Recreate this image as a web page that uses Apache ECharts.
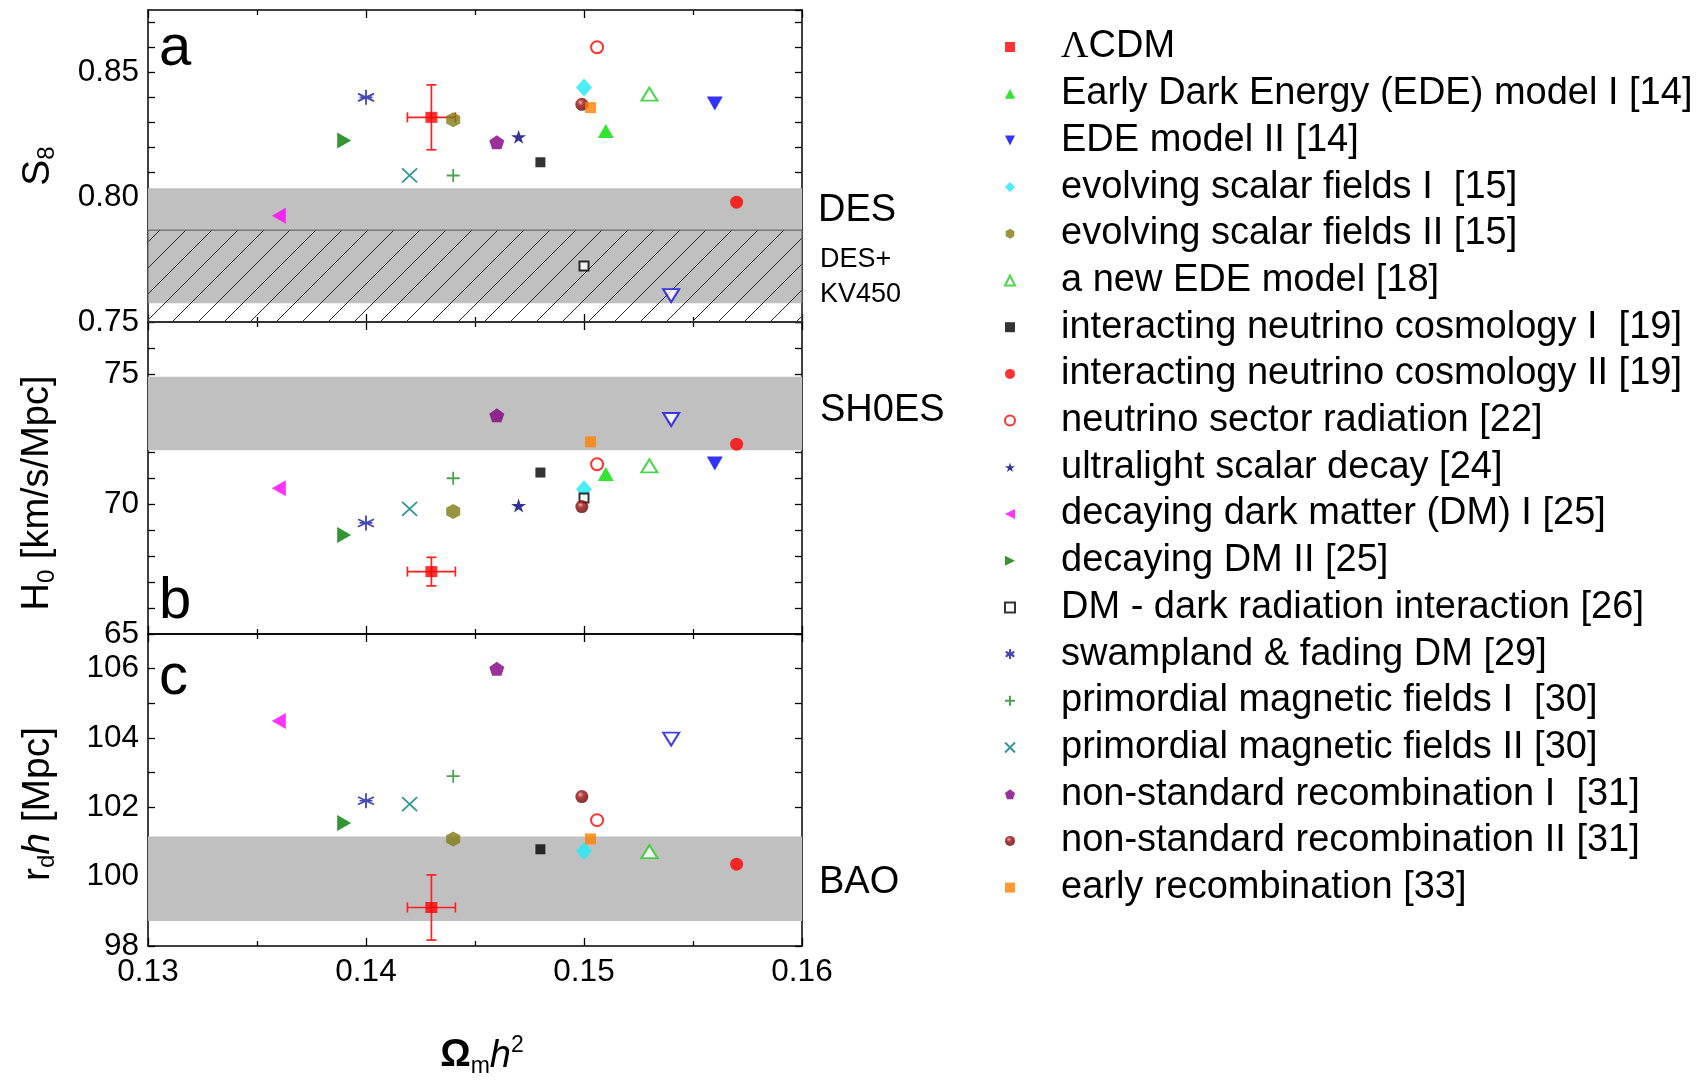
<!DOCTYPE html>
<html><head><meta charset="utf-8">
<script src="https://cdn.jsdelivr.net/npm/echarts@6/dist/echarts.min.js"></script>
<style>html,body{margin:0;padding:0;background:#fff}#c{width:1699px;height:1083px}</style>
</head><body><div id="c"></div>
<script>
// ---------------- data ----------------
const modelNames = [
  'ΛCDM',
  'Early Dark Energy (EDE) model I [14]',
  'EDE model II [14]',
  'evolving scalar fields I  [15]',
  'evolving scalar fields II [15]',
  'a new EDE model [18]',
  'interacting neutrino cosmology I  [19]',
  'interacting neutrino cosmology II [19]',
  'neutrino sector radiation [22]',
  'ultralight scalar decay [24]',
  'decaying dark matter (DM) I [25]',
  'decaying DM II [25]',
  'DM - dark radiation interaction [26]',
  'swampland & fading DM [29]',
  'primordial magnetic fields I  [30]',
  'primordial magnetic fields II [30]',
  'non-standard recombination I  [31]',
  'non-standard recombination II [31]',
  'early recombination [33]',
  'unlabeled'
];
const omh2 = [0.143, 0.151, 0.156, 0.150, 0.144, 0.153, 0.148, 0.157, 0.1506, 0.147, 0.136, 0.139, 0.150, 0.140, 0.144, 0.142, 0.146, 0.1499, 0.1503, 0.154];
const s8   = [0.832, 0.8265, 0.8375, 0.844, 0.831, 0.8413, 0.814, 0.798, 0.8601, 0.8242, 0.7926, 0.8227, 0.7724, 0.840, 0.8087, 0.8087, 0.822, 0.8372, 0.8359, 0.7606];
const h0   = [67.4, 71.15, 71.56, 70.57, 69.71, 71.47, 71.21, 72.30, 71.53, 69.94, 70.61, 68.81, 70.23, 69.27, 70.99, 69.81, 73.41, 69.90, 72.39, 73.25];
const rdh  = [99.11, null, null, 100.74, 101.09, 100.72, 100.79, 100.36, 101.63, null, 104.49, 101.55, null, 102.19, 102.90, 102.09, 106.0, 102.31, 101.09, 103.97];
const lcdmErrX = 0.0011;
const lcdmErrY = [0.013, 0.55, 0.94];
const desBand = [0.7575, 0.8036];
const desKvBand = [0.738, 0.7868];
const shoesBand = [72.07, 74.89];
const baoBand = [98.72, 101.16];
const xTickLabels = ['0.13', '0.14', '0.15', '0.16'];
const panelLabels = ['a', 'b', 'c'];
const bandLabels = ['DES', 'DES+', 'KV450', 'SH0ES', 'BAO'];

// ---------------- styles ----------------
const FONT = 'Liberation Sans';
const TRI_UP = 'path://M5,0 L10,10 L0,10 Z';
const TRI_DOWN = 'path://M0,0 L10,0 L5,10 Z';
const TRI_LEFT = 'path://M0,5 L10,0 L10,10 Z';
const TRI_RIGHT = 'path://M0,0 L10,5 L0,10 Z';
const HEX = 'path://M5,0 L9.33,2.5 L9.33,7.5 L5,10 L0.67,7.5 L0.67,2.5 Z';
const PENT = 'path://M5,0 L10,3.8 L8.1,10 L1.9,10 L0,3.8 Z';
const STAR = 'path://M5,0 L6.12,3.45 L9.76,3.45 L6.82,5.59 L7.94,9.05 L5,6.91 L2.06,9.05 L3.18,5.59 L0.24,3.45 L3.88,3.45 Z';
const AST = 'path://M5,0 L5,10 M0.67,2.5 L9.33,7.5 M0.67,7.5 L9.33,2.5 M1.5,5 L8.5,5';
const PLUS = 'path://M5,0 L5,10 M0,5 L10,5';
const CROSS = 'path://M0,0 L10,10 M0,10 L10,0';
const darkRedBall = {type:'radial', x:0.4, y:0.35, r:0.65, colorStops:[{offset:0, color:'#e0a0a0'},{offset:0.35, color:'#a01010'},{offset:1, color:'#600000'}]};
const styles = [
  {symbol:'rect', size:[12,11], color:'#ff0000'},
  {symbol:TRI_UP, size:[16,14], color:'#00dd00'},
  {symbol:TRI_DOWN, size:[16,14], color:'#0000ff'},
  {symbol:'diamond', size:[16,18], color:'#1ee8f5'},
  {symbol:HEX, size:[14,15], color:'#7f7a14'},
  {symbol:'emptyTriangle', size:[16,13], color:'#22cc22', open:true},
  {symbol:'rect', size:[10,10], color:'#000000'},
  {symbol:'circle', size:13, color:'#ff0000'},
  {symbol:'emptyCircle', size:12, color:'#ff0000', open:true},
  {symbol:STAR, size:[15,14], color:'#000080'},
  {symbol:TRI_LEFT, size:[14,16], color:'#ff00ff'},
  {symbol:TRI_RIGHT, size:[14,16], color:'#007a00'},
  {symbol:'emptyRect', size:9, color:'#000000', open:true},
  {symbol:AST, size:[16,15], color:'#1a1aa8', line:true},
  {symbol:PLUS, size:13, color:'#228b22', line:true},
  {symbol:CROSS, size:[15,14], color:'#008080', line:true},
  {symbol:PENT, size:[15,14], color:'#800080'},
  {symbol:'circle', size:13, color:darkRedBall},
  {symbol:'rect', size:11, color:'#ff8000'},
  {symbol:'emptyTriangle', size:[16,13], color:'#1010e0', open:true, rotate:180}
];

// ---------------- layout ----------------
const GL = 148, GW = 654, GH = 312, tops = [10, 322, 634];
const xMin = 0.13, xMax = 0.16;
const yDefs = [
  {min:0.75, max:0.875, step:0.01, major:0.05, dec:2, vals:s8},
  {min:65, max:77, step:1, major:5, dec:0, vals:h0},
  {min:98, max:107, step:1, major:2, dec:0, vals:rdh}
];

function hatchCanvas(){
  const s = 26, c = document.createElement('canvas');
  c.width = s; c.height = s;
  const ctx = c.getContext('2d');
  ctx.strokeStyle = '#2a2a2a'; ctx.lineWidth = 1;
  ctx.beginPath();
  ctx.moveTo(0, s); ctx.lineTo(s, 0);
  ctx.moveTo(-s/2, s/2); ctx.lineTo(s/2, -s/2);
  ctx.moveTo(s/2, s*1.5); ctx.lineTo(s*1.5, s/2);
  ctx.stroke();
  return c;
}
const hatch = hatchCanvas();

const axisLine = {show:true, onZero:false, lineStyle:{color:'#000', width:1.5}};
const grids = [], xAxes = [], yAxes = [], series = [];
tops.forEach((t, g) => {
  grids.push({left:GL, width:GW, top:t, height:GH, outerBoundsMode:'none', containLabel:false});
  ['bottom','top'].forEach(pos => {
    const showLab = (g === 2 && pos === 'bottom');
    xAxes.push({type:'value', gridIndex:g, position:pos, min:xMin, max:xMax, interval:0.01,
      axisLine, splitLine:{show:false},
      axisTick:{show:true, inside:true, length:8, lineStyle:{color:'#000', width:1.3}},
      minorTick:{show:true, splitNumber:2, length:5, lineStyle:{color:'#000', width:1.3}},
      axisLabel:{show:showLab, margin:10, fontSize:31.5, fontFamily:FONT, color:'#000',
        formatter: v => { const i = Math.round((v - xMin) / 0.01); return xTickLabels[i] || ''; }}
    });
  });
  const d = yDefs[g];
  ['left','right'].forEach(pos => {
    yAxes.push({type:'value', gridIndex:g, position:pos, min:d.min, max:d.max, interval:d.step,
      axisLine, splitLine:{show:false},
      axisTick:{show:true, inside:true, length:7, lineStyle:{color:'#000', width:1.3}},
      axisLabel:{show:pos === 'left', margin:9, fontSize:31.5, fontFamily:FONT, color:'#000', showMinLabel:true, showMaxLabel:false,
        formatter: v => { const r = v / d.major; return Math.abs(r - Math.round(r)) < 1e-6 ? v.toFixed(d.dec) : ''; }}
    });
  });
});

// bands
const bandAreas = [
  [
    [{yAxis:desBand[0], itemStyle:{color:'#c0c0c0'}}, {yAxis:desBand[1]}],
    [{yAxis:Math.max(desKvBand[0], yDefs[0].min), itemStyle:{color:{image:hatch, repeat:'repeat'}, borderColor:'#555', borderWidth:1}}, {yAxis:desKvBand[1]}]
  ],
  [[{yAxis:shoesBand[0], itemStyle:{color:'#c0c0c0'}}, {yAxis:shoesBand[1]}]],
  [[{yAxis:baoBand[0], itemStyle:{color:'#c0c0c0'}}, {yAxis:baoBand[1]}]]
];
tops.forEach((t, g) => {
  series.push({type:'scatter', name:'band'+g, xAxisIndex:2*g, yAxisIndex:2*g, data:[], silent:true,
    markArea:{silent:true, label:{show:false}, data:bandAreas[g]}});
});

// error bars
tops.forEach((t, g) => {
  const vals = yDefs[g].vals;
  series.push({type:'custom', name:'ΛCDM error', xAxisIndex:2*g, yAxisIndex:2*g, silent:true, z:3,
    data:[[omh2[0], vals[0], lcdmErrX, lcdmErrY[g]]], encode:{x:0, y:1},
    renderItem:(params, api) => {
      const x = api.value(0), y = api.value(1), ex = api.value(2), ey = api.value(3);
      const l = api.coord([x-ex, y]), r = api.coord([x+ex, y]), tp = api.coord([x, y+ey]), b = api.coord([x, y-ey]);
      const st = {stroke:'#ff2020', lineWidth:1.7}, cap = 5;
      const ln = (x1,y1,x2,y2) => ({type:'line', shape:{x1,y1,x2,y2}, style:st});
      return {type:'group', children:[
        ln(l[0],l[1],r[0],r[1]), ln(tp[0],tp[1],b[0],b[1]),
        ln(l[0],l[1]-cap,l[0],l[1]+cap), ln(r[0],r[1]-cap,r[0],r[1]+cap),
        ln(tp[0]-cap,tp[1],tp[0]+cap,tp[1]), ln(b[0]-cap,b[1],b[0]+cap,b[1])
      ]};
    }});
});

// points
tops.forEach((t, g) => {
  const vals = yDefs[g].vals;
  modelNames.forEach((name, k) => {
    if (vals[k] === null) return;
    const s = styles[k];
    const itemStyle = s.line ? {color:'rgba(0,0,0,0)', borderColor:s.color, borderWidth:1.8}
                    : s.open ? {color:s.color, borderColor:s.color, borderWidth:1.6}
                    : {color:s.color};
    series.push({type:'scatter', name, xAxisIndex:2*g, yAxisIndex:2*g, z:4,
      symbol:s.symbol, symbolSize:s.size, symbolRotate:s.rotate || 0,
      itemStyle, data:[[omh2[k], vals[k]]]});
  });
});

const legendNames = modelNames.slice(0, 19);

const option = {
  animation:false,
  backgroundColor:'#fff',
  grid:grids, xAxis:xAxes, yAxis:yAxes, series,
  legend:{orient:'vertical', left:1004, top:28, itemWidth:10, itemHeight:10, itemGap:8.7, selectedMode:false,
    data:legendNames, padding:0,
    textStyle:{fontFamily:FONT, fontSize:38, lineHeight:38, color:'#000',
      rich:{g:{width:41}, l:{fontFamily:'Liberation Serif', fontSize:38, lineHeight:38}}},
    formatter: n => n === 'ΛCDM' ? '{g|}{l|Λ}CDM' : '{g|}' + n
  },
  graphic:[
    {type:'text', x:159, y:49, style:{text:panelLabels[0], fontSize:58, fontFamily:FONT, fill:'#000', align:'left', verticalAlign:'middle'}},
    {type:'text', x:159, y:602, style:{text:panelLabels[1], fontSize:58, fontFamily:FONT, fill:'#000', align:'left', verticalAlign:'middle'}},
    {type:'text', x:159, y:678, style:{text:panelLabels[2], fontSize:58, fontFamily:FONT, fill:'#000', align:'left', verticalAlign:'middle'}},
    {type:'text', x:818, y:211, style:{text:bandLabels[0], fontSize:38, fontFamily:FONT, fill:'#000', align:'left', verticalAlign:'middle'}},
    {type:'text', x:820, y:260, style:{text:bandLabels[1], fontSize:27, fontFamily:FONT, fill:'#000', align:'left', verticalAlign:'middle'}},
    {type:'text', x:820, y:295, style:{text:bandLabels[2], fontSize:27, fontFamily:FONT, fill:'#000', align:'left', verticalAlign:'middle'}},
    {type:'text', x:820, y:411, style:{text:bandLabels[3], fontSize:38, fontFamily:FONT, fill:'#000', align:'left', verticalAlign:'middle'}},
    {type:'text', x:819, y:883, style:{text:bandLabels[4], fontSize:38, fontFamily:FONT, fill:'#000', align:'left', verticalAlign:'middle'}},
    {type:'text', x:38, y:166, rotation:Math.PI/2, style:{text:'{m|S}{s|8}', align:'center', verticalAlign:'middle', fill:'#000',
      rich:{m:{fontSize:39, lineHeight:42, fontFamily:FONT}, s:{fontSize:24, lineHeight:14, verticalAlign:'bottom', fontFamily:FONT}}}},
    {type:'text', x:38, y:493, rotation:Math.PI/2, style:{text:'{m|H}{s|0}{m| [km/s/Mpc]}', align:'center', verticalAlign:'middle', fill:'#000',
      rich:{m:{fontSize:38, lineHeight:42, fontFamily:FONT}, s:{fontSize:24, lineHeight:14, verticalAlign:'bottom', fontFamily:FONT}}}},
    {type:'text', x:38, y:804, rotation:Math.PI/2, style:{text:'{m|r}{s|d}{i|h}{m| [Mpc]}', align:'center', verticalAlign:'middle', fill:'#000',
      rich:{m:{fontSize:39, lineHeight:42, fontFamily:FONT}, i:{fontSize:39, lineHeight:42, fontFamily:FONT, fontStyle:'italic'},
            s:{fontSize:24, lineHeight:14, verticalAlign:'bottom', fontFamily:FONT}}}},
    {type:'text', x:482, y:1056, style:{text:'{m|Ω}{s|m}{i|h}{p|2}', align:'center', verticalAlign:'middle', fill:'#000',
      rich:{m:{fontSize:38, lineHeight:44, fontFamily:FONT, fontWeight:'bold'}, i:{fontSize:38, lineHeight:44, fontFamily:FONT, fontStyle:'italic'},
            s:{fontSize:23, lineHeight:14, verticalAlign:'bottom', fontFamily:FONT}, p:{fontSize:23, lineHeight:16, verticalAlign:'top', fontFamily:FONT}}}}
  ]
};
const chart = echarts.init(document.getElementById('c'), null, {renderer:'canvas'});
chart.setOption(option);
</script>
</body></html>
